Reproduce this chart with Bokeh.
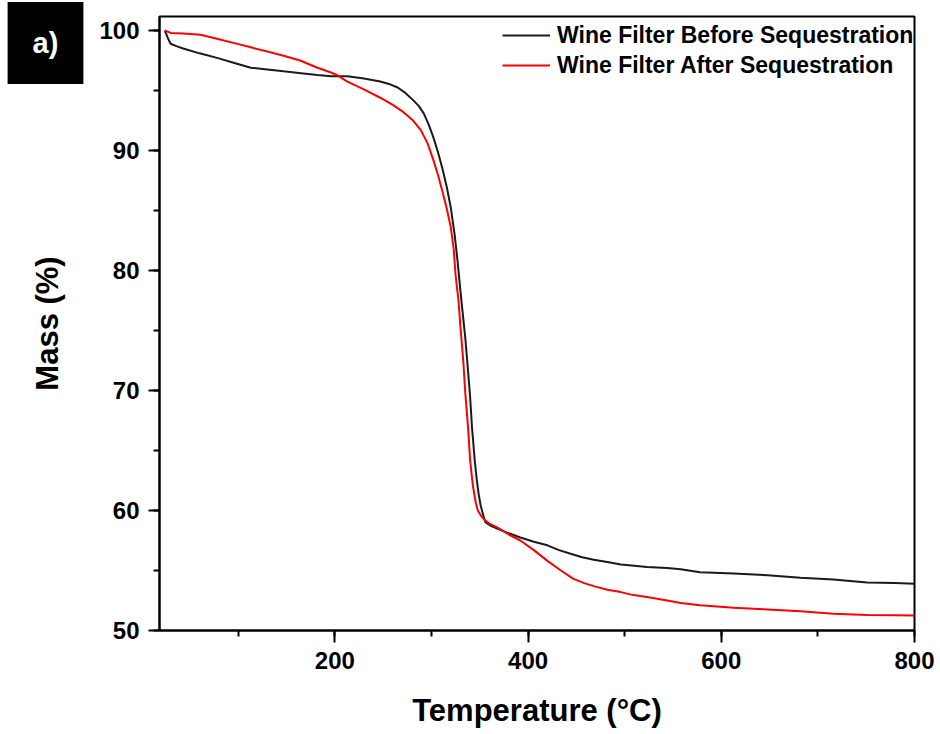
from bokeh.plotting import figure
from bokeh.models import Range1d, SingleIntervalTicker, Legend, LegendItem, Label
from bokeh.embed import file_html
from bokeh.resources import INLINE

temp_before = [24, 27, 30, 36, 43, 60, 79, 96, 113, 130, 147, 165, 182, 196, 213, 230, 247, 256, 265, 273,
               281, 287, 292, 297, 302, 307, 312, 316, 320, 324, 327, 330, 332, 335, 337, 340, 342, 345, 347, 349,
               351, 354, 356, 362, 368, 380, 392, 406, 420, 432, 444, 456, 468, 482, 496, 510, 523, 544, 558, 578,
               613, 648, 682, 716, 751, 780, 800]
mass_before = [100.0, 99.4, 98.9, 98.7, 98.5, 98.1, 97.7, 97.3, 96.9, 96.75, 96.6, 96.45, 96.3, 96.2, 96.2, 96.0,
               95.75, 95.55, 95.25, 94.8, 94.2, 93.7, 93.1, 92.2, 91.1, 89.8, 88.3, 86.9, 85.25, 83.0, 80.8, 78.3,
               76.7, 74.4, 72.5, 69.5, 66.9, 64.0, 62.5, 61.3, 60.4, 59.5, 59.0, 58.7, 58.5, 58.1, 57.75, 57.4,
               57.1, 56.7, 56.4, 56.1, 55.9, 55.7, 55.5, 55.4, 55.3, 55.2, 55.1, 54.85, 54.75, 54.6, 54.4, 54.25,
               54.0, 53.95, 53.9]

temp_after = [24, 30, 43, 61, 79, 96, 113, 130, 147, 164, 182, 196, 203, 213, 230, 247, 260, 271, 281, 289,
              296, 302, 307, 312, 316, 320, 323, 325, 328, 330, 333, 335, 338, 340, 343, 346, 348, 351, 354, 360,
              368, 380, 392, 406, 420, 434, 447, 458, 468, 482, 496, 509, 523, 544, 558, 578, 613, 648, 682, 716,
              751, 780, 800]
mass_after = [100.0, 99.8, 99.75, 99.65, 99.3, 98.95, 98.6, 98.25, 97.9, 97.5, 96.9, 96.5, 96.25, 95.75, 95.1,
              94.4, 93.8, 93.2, 92.5, 91.7, 90.6, 89.2, 87.9, 86.4, 85.1, 83.6, 81.8, 79.6, 77.5, 75.3, 72.4, 69.8,
              66.8, 64.2, 62.0, 60.6, 60.0, 59.6, 59.3, 58.9, 58.6, 58.0, 57.5, 56.7, 55.8, 55.0, 54.3, 53.95,
              53.7, 53.4, 53.2, 52.95, 52.8, 52.5, 52.3, 52.1, 51.9, 51.75, 51.6, 51.4, 51.3, 51.27, 51.25]

series_names = ["Wine Filter Before Sequestration", "Wine Filter After Sequestration"]
x_label = "Temperature (\u00b0C)"
y_label = "Mass (%)"
panel_label = "a)"

FONT = "Liberation Sans"

p = figure(width=940, height=734, output_backend="svg", toolbar_location=None,
           x_range=Range1d(18.5, 800), y_range=Range1d(50, 101.17),
           min_border_left=159, min_border_right=26, min_border_top=16, min_border_bottom=104)
p.background_fill_color = "white"
p.border_fill_color = "white"
p.grid.visible = False
p.outline_line_color = "black"
p.outline_line_width = 2

r1 = p.line(temp_before, mass_before, line_color="#1a1a1a", line_width=2)
r2 = p.line(temp_after, mass_after, line_color="#ff0000", line_width=2)

p.xaxis.ticker = SingleIntervalTicker(interval=200, num_minor_ticks=2)
p.yaxis.ticker = SingleIntervalTicker(interval=10, num_minor_ticks=2)

for ax in (p.xaxis[0], p.yaxis[0]):
    ax.axis_line_width = 2
    ax.axis_line_color = "black"
    ax.major_tick_line_width = 2
    ax.minor_tick_line_width = 2
    ax.major_tick_in = 0
    ax.minor_tick_in = 0
    ax.major_label_text_font = FONT
    ax.major_label_text_font_style = "bold"
    ax.major_label_text_font_size = "24px"
    ax.major_label_text_color = "black"
    ax.axis_label_text_font = FONT
    ax.axis_label_text_font_style = "bold"
    ax.axis_label_text_font_size = "31px"
    ax.axis_label_text_color = "black"

p.xaxis.axis_label = x_label
p.yaxis.axis_label = y_label
p.xaxis.major_tick_out = 12
p.xaxis.minor_tick_out = 6
p.yaxis.major_tick_out = 11
p.yaxis.minor_tick_out = 6
p.xaxis.major_label_standoff = 9
p.yaxis.major_label_standoff = 9
p.xaxis.axis_label_standoff = 21
p.yaxis.axis_label_standoff = 31

legend = Legend(items=[LegendItem(label=series_names[0], renderers=[r1]),
                       LegendItem(label=series_names[1], renderers=[r2])],
                location=(343, 550), padding=0, margin=0, spacing=0,
                glyph_width=48, glyph_height=30, label_height=30, label_standoff=7,
                label_text_font=FONT, label_text_font_style="bold", label_text_font_size="23px",
                label_text_color="black", border_line_color=None, background_fill_alpha=0)
p.add_layout(legend)

# panel tag "a)" placed in the left side panel so it is not clipped by the frame
lab = Label(x=44, y=587.5, x_units="screen", y_units="screen", text=panel_label,
            text_font=FONT, text_font_style="bold", text_font_size="29px", text_color="white",
            text_align="center", text_baseline="middle", text_line_height=0.45,
            background_fill_color="black", border_line_color="black", border_line_width=50,
            border_line_join="miter", padding=0)
p.add_layout(lab, "left")

open("out.html", "w").write(file_html(p, INLINE))
